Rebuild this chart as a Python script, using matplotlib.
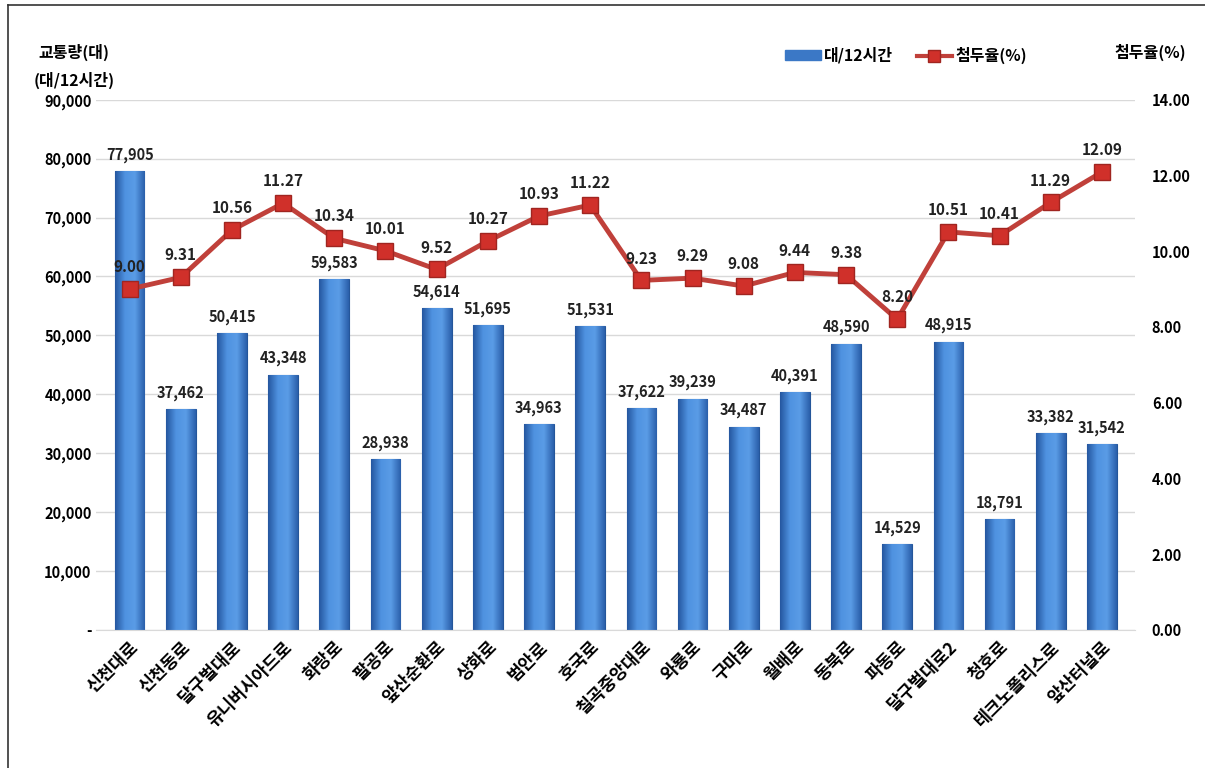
import matplotlib
matplotlib.use('Agg')
import numpy as np
import matplotlib.pyplot as plt
from matplotlib.ticker import FuncFormatter
from matplotlib.lines import Line2D
from matplotlib.colors import LinearSegmentedColormap

plt.rcParams['font.family'] = ['Noto Sans CJK KR', 'DejaVu Sans']
plt.rcParams['font.weight'] = 'bold'

# 도로별 교통량과 첨두율
roads = ['신천대로', '신천동로', '달구벌대로', '유니버시아드로', '화랑로', '팔공로', '앞산순환로',
         '상화로', '범안로', '호국로', '칠곡중앙대로', '와룡로', '구마로', '월배로', '동북로',
         '파동로', '달구벌대로2', '청호로', '테크노폴리스로', '앞산터널로']
volume = [77905, 37462, 50415, 43348, 59583, 28938, 54614, 51695, 34963, 51531,
          37622, 39239, 34487, 40391, 48590, 14529, 48915, 18791, 33382, 31542]
peak_rate = [9.00, 9.31, 10.56, 11.27, 10.34, 10.01, 9.52, 10.27, 10.93, 11.22,
             9.23, 9.29, 9.08, 9.44, 9.38, 8.20, 10.51, 10.41, 11.29, 12.09]

bar_color = '#3b78c6'
line_color = '#c0403a'
grad = LinearSegmentedColormap.from_list('bar', ['#2557a0', '#4f92e0', '#5a9ce6', '#2b60ab'])

fig = plt.figure(figsize=(12.05, 7.68), dpi=100)
ax = fig.add_axes([0.080, 0.180, 0.862, 0.690])
ax2 = ax.twinx()

x = list(range(len(roads)))
bars = ax.bar(x, volume, width=0.58, color=bar_color, edgecolor='#24569a', linewidth=0.8, zorder=2)
# 막대 그라데이션
g = np.linspace(0, 1, 64).reshape(1, -1)
for b in bars:
    x0, w, h = b.get_x(), b.get_width(), b.get_height()
    im = ax.imshow(g, cmap=grad, aspect='auto', extent=(x0, x0 + w, 0, h), zorder=2.1)
    im.set_clip_path(b)

ax.set_ylim(0, 90000)
ax.set_yticks(range(0, 90001, 10000))
ax.yaxis.set_major_formatter(FuncFormatter(lambda v, p: '-' if v == 0 else f'{int(v):,}'))
ax.grid(axis='y', color='#d9d9d9', linewidth=1, zorder=0)
ax.set_xlim(-0.65, len(roads) - 0.35)
ax.set_xticks(x)
ax.set_xticklabels(roads, rotation=45, ha='right', rotation_mode='anchor', fontsize=12.5, fontweight='bold')
ax.tick_params(axis='x', length=0, pad=6)
ax.tick_params(axis='y', length=0, labelsize=10.5)

for i, v in enumerate(volume):
    ax.annotate(f'{v:,}', (i, v), xytext=(0, 6), textcoords='offset points',
                ha='center', va='bottom', fontsize=10.5, fontweight='bold', color='#222222')

ax2.plot(x, peak_rate, color=line_color, linewidth=3.5, marker='s', markersize=11,
         markerfacecolor='#d0302a', markeredgecolor='#a02520', zorder=3)
ax2.set_ylim(0, 14)
ax2.set_yticks([i * 2 for i in range(8)])
ax2.yaxis.set_major_formatter(FuncFormatter(lambda v, p: f'{v:.2f}'))
ax2.tick_params(axis='y', length=0, labelsize=10.5, pad=12)

for i, v in enumerate(peak_rate):
    ax2.annotate(f'{v:.2f}', (i, v), xytext=(0, 10), textcoords='offset points',
                 ha='center', va='bottom', fontsize=11, fontweight='bold', color='#222222')

for a in (ax, ax2):
    for s in a.spines.values():
        s.set_visible(False)
ax.spines['bottom'].set_visible(True)
ax.spines['bottom'].set_color('#d9d9d9')

fig.text(0.032, 0.925, '교통량(대)', fontsize=11.5, fontweight='bold')
fig.text(0.028, 0.888, '(대/12시간)', fontsize=11.5, fontweight='bold')
fig.text(0.925, 0.925, '첨두율(%)', fontsize=11.5, fontweight='bold')

handles = [plt.Rectangle((0, 0), 1, 1, color=bar_color),
           Line2D([0], [0], color=line_color, linewidth=3, marker='s', markersize=8,
                  markerfacecolor='#d0302a', markeredgecolor='#a02520')]
fig.legend(handles, ['대/12시간', '첨두율(%)'], loc='center', bbox_to_anchor=(0.752, 0.928),
           ncol=2, frameon=False, fontsize=11.5, handlelength=2.2, handletextpad=0.2,
           columnspacing=1.5, handleheight=0.5)

# 외곽선 (좌측, 상단)
fig.add_artist(Line2D([0.007, 0.007], [0, 0.993], color='#333333', linewidth=1.2))
fig.add_artist(Line2D([0.007, 1.0], [0.993, 0.993], color='#333333', linewidth=1.2))

fig.savefig('out.png', dpi=100)
